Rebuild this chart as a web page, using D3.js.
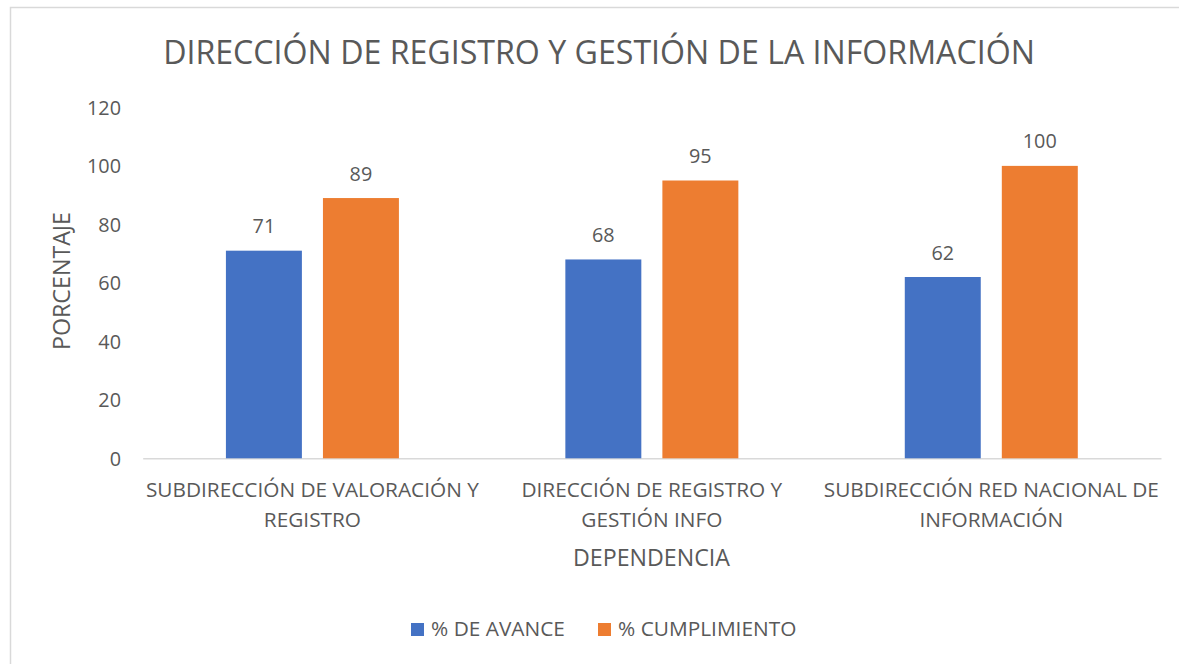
<!DOCTYPE html>
<html><head><meta charset="utf-8">
<script src="https://cdn.jsdelivr.net/npm/d3@7"></script>
<style>html,body{margin:0;padding:0;background:#fff;}svg{display:block;}</style>
</head><body>
<svg id="c" width="1179" height="664"></svg>
<script>
const categories = [
  ["SUBDIRECCIÓN DE VALORACIÓN Y", "REGISTRO"],
  ["DIRECCIÓN DE REGISTRO Y", "GESTIÓN INFO"],
  ["SUBDIRECCIÓN RED NACIONAL DE", "INFORMACIÓN"]
];
const seriesNames = ["% DE AVANCE", "% CUMPLIMIENTO"];
const avance = [71, 68, 62];
const cumplimiento = [89, 95, 100];
const yTicks = [0, 20, 40, 60, 80, 100, 120];
const colors = ["#4472C4", "#ED7D31"];

const FONT = "'Open Sans', 'Noto Sans', sans-serif";
const TXT = "#595959";
const svg = d3.select("#c");

// helper: font size to make a string reach a target width
function fitSize(str, target) {
  const t = svg.append("text").attr("font-family", FONT).attr("font-size", 100).text(str);
  const w = t.node().getComputedTextLength();
  t.remove();
  return 100 * target / w;
}

// frame
svg.append("rect").attr("x", 10.5).attr("y", 7.5).attr("width", 1300).attr("height", 800)
  .attr("fill", "none").attr("stroke", "#d9d9d9").attr("stroke-width", 1.5);

const catKeys = categories.map(c => c.join(" "));
const x0 = d3.scaleBand().domain(catKeys).range([142.7, 1161]).paddingInner(0).paddingOuter(0);
const groupW = 173;
const x1 = d3.scaleBand().domain(seriesNames)
  .range([(x0.bandwidth() - groupW) / 2, (x0.bandwidth() + groupW) / 2]).paddingInner(0.217);
const y = d3.scaleLinear().domain([0, 120]).range([458.3, 107.4]);

// title
const titleStr = "DIRECCIÓN DE REGISTRO Y GESTIÓN DE LA INFORMACIÓN";
svg.append("text").attr("x", 599).attr("y", 64).attr("text-anchor", "middle")
  .attr("font-family", FONT).attr("font-size", fitSize(titleStr, 872)).attr("fill", TXT).text(titleStr);

// y axis ticks (labels only)
const tickSize = fitSize("120", 34);
const yAxis = d3.axisLeft(y).tickValues(yTicks).tickSize(0).tickPadding(0);
const gy = svg.append("g").attr("transform", "translate(121,0)").call(yAxis);
gy.select(".domain").remove();
gy.selectAll("text").attr("font-family", FONT).attr("font-size", tickSize).attr("fill", TXT)
  .attr("dy", "0.35em");

// baseline
const gx = svg.append("g").attr("transform", `translate(0,${y(0)})`)
  .call(d3.axisBottom(x0).tickSize(0).tickFormat(""));
gx.select(".domain").attr("stroke", "#d9d9d9").attr("stroke-width", 1.5);

// bars
const data = categories.map((c, i) => ({ key: catKeys[i], vals: [avance[i], cumplimiento[i]] }));
const groups = svg.append("g").selectAll("g").data(data).join("g")
  .attr("transform", d => `translate(${x0(d.key)},0)`);
groups.selectAll("rect").data(d => d.vals.map((v, j) => ({ s: seriesNames[j], v, j })))
  .join("rect")
  .attr("x", d => x1(d.s)).attr("width", x1.bandwidth())
  .attr("y", d => y(d.v)).attr("height", d => y(0) - y(d.v))
  .attr("fill", d => colors[d.j]);
groups.selectAll("text.lbl").data(d => d.vals.map((v, j) => ({ s: seriesNames[j], v, j })))
  .join("text").attr("class", "lbl")
  .attr("x", d => x1(d.s) + x1.bandwidth() / 2).attr("y", d => y(d.v) - 17.5)
  .attr("text-anchor", "middle").attr("font-family", FONT).attr("font-size", tickSize)
  .attr("fill", TXT).text(d => d.v);

// category labels
const catSize = fitSize("SUBDIRECCIÓN DE VALORACIÓN Y", 333);
const cl = svg.append("g").selectAll("text").data(categories).join("text")
  .attr("text-anchor", "middle").attr("font-family", FONT).attr("font-size", catSize).attr("fill", TXT);
cl.selectAll("tspan").data((d, i) => d.map(s => ({ s, k: catKeys[i] }))).join("tspan")
  .attr("x", d => x0(d.k) + x0.bandwidth() / 2)
  .attr("y", (d, i) => 497 + i * 30).text(d => d.s);

// x axis title
svg.append("text").attr("x", 651.5).attr("y", 566).attr("text-anchor", "middle")
  .attr("font-family", FONT).attr("font-size", fitSize("DEPENDENCIA", 157)).attr("fill", TXT).text("DEPENDENCIA");

// y axis title
svg.append("text").attr("transform", "translate(70,281) rotate(-90)").attr("text-anchor", "middle")
  .attr("font-family", FONT).attr("font-size", fitSize("PORCENTAJE", 138)).attr("fill", TXT).text("PORCENTAJE");

// legend
const legSize = fitSize("% DE AVANCE", 134);
const legX = [411, 598];
const lg = svg.append("g").selectAll("g").data(seriesNames).join("g")
  .attr("transform", (d, i) => `translate(${legX[i]},623)`);
lg.append("rect").attr("width", 13).attr("height", 13).attr("fill", (d, i) => colors[i]);
lg.append("text").attr("x", 20).attr("y", 13).attr("font-family", FONT).attr("font-size", legSize)
  .attr("fill", TXT).text(d => d);
</script>
</body></html>
